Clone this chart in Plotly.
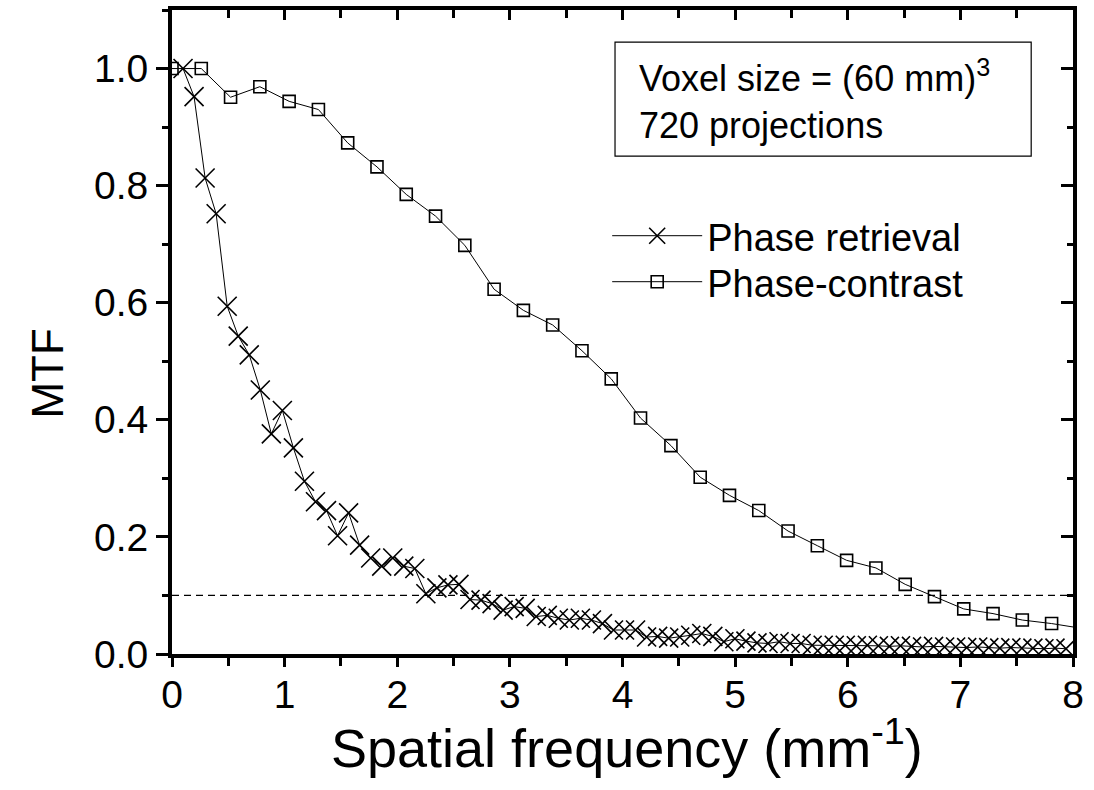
import plotly.graph_objects as go

# Phase-contrast (squares)
pc_x = [0.00, 0.26, 0.52, 0.78, 1.04, 1.30, 1.56, 1.82, 2.08, 2.34, 2.60, 2.86, 3.12, 3.38,
        3.64, 3.90, 4.16, 4.43, 4.69, 4.95, 5.21, 5.47, 5.73, 5.99, 6.25, 6.51, 6.77, 7.03,
        7.29, 7.55, 7.81, 8.07]
pc_y = [1.000, 1.000, 0.951, 0.969, 0.944, 0.930, 0.873, 0.832, 0.785, 0.748, 0.698, 0.623,
        0.587, 0.562, 0.518, 0.470, 0.403, 0.356, 0.302, 0.271, 0.245, 0.210, 0.185, 0.160,
        0.147, 0.119, 0.098, 0.077, 0.069, 0.058, 0.052, 0.044]

# Phase retrieval (crosses)
pr_y = [1.000, 0.952, 0.813, 0.752, 0.594, 0.543, 0.511, 0.451, 0.376, 0.416,
        0.352, 0.295, 0.260, 0.245, 0.202, 0.241, 0.186, 0.164, 0.150, 0.164,
        0.150, 0.146, 0.103, 0.113, 0.118, 0.119, 0.093, 0.092, 0.086, 0.075,
        0.081, 0.078, 0.064, 0.066, 0.061, 0.058, 0.061, 0.058, 0.052, 0.041,
        0.041, 0.041, 0.029, 0.030, 0.027, 0.029, 0.032, 0.035, 0.030, 0.021,
        0.026, 0.022, 0.019, 0.018, 0.021, 0.018, 0.018, 0.015, 0.015, 0.015,
        0.015, 0.014, 0.015, 0.014, 0.013, 0.014, 0.013, 0.012, 0.013, 0.012,
        0.012, 0.011, 0.012, 0.011, 0.010, 0.011, 0.010, 0.010, 0.009, 0.010,
        0.009]
pr_x = [round(0.098 * (i + 1), 3) for i in range(len(pr_y))]

threshold_x = [0, 8]
threshold_y = [0.1, 0.1]

x_ticks = [0, 1, 2, 3, 4, 5, 6, 7, 8]
y_ticks = [0.0, 0.2, 0.4, 0.6, 0.8, 1.0]
y_tick_text = ["0.0", "0.2", "0.4", "0.6", "0.8", "1.0"]

FONT = "Liberation Sans, Arial, sans-serif"

fig = go.Figure()
fig.add_trace(go.Scatter(x=threshold_x, y=threshold_y, mode="lines",
                         line=dict(color="black", width=1.3, dash="7px,5px"),
                         showlegend=False, hoverinfo="skip"))
fig.add_trace(go.Scatter(x=pr_x, y=pr_y, mode="lines+markers", name="Phase retrieval",
                         legend="legend",
                         line=dict(color="black", width=1),
                         marker=dict(symbol="x-thin", size=19, color="black",
                                     line=dict(color="black", width=1.6))))
fig.add_trace(go.Scatter(x=pc_x, y=pc_y, mode="lines+markers", name="Phase-contrast",
                         legend="legend2",
                         line=dict(color="black", width=1),
                         marker=dict(symbol="square-open", size=12, color="black",
                                     line=dict(color="#222", width=1.6))))

axis_common = dict(showgrid=False, zeroline=False, showline=True, linecolor="black",
                   linewidth=4, ticks="outside", tickcolor="black", tickwidth=3,
                   tickfont=dict(family=FONT, size=39, color="black"))

legend_common = dict(xanchor="left", yanchor="middle", bgcolor="rgba(0,0,0,0)",
                     font=dict(family=FONT, size=38, color="black"), itemwidth=90)

fig.update_layout(
    width=1094, height=790,
    margin=dict(l=172, r=17, t=10, b=136),
    plot_bgcolor="white", paper_bgcolor="white",
    font=dict(family=FONT, color="black"),
    xaxis=dict(range=[0, 8], tickvals=x_ticks, ticklen=9, ticklabelstandoff=-6,
               minor=dict(dtick=0.5, ticks="outside", ticklen=8, tickwidth=3, tickcolor="black"),
               **axis_common),
    yaxis=dict(range=[0, 1.1], tickvals=y_ticks, ticktext=y_tick_text, ticklen=12,
               minor=dict(dtick=0.1, ticks="outside", ticklen=6, tickwidth=3, tickcolor="black"),
               **axis_common),
    xaxis2=dict(range=[0, 8], overlaying="x", side="top", showgrid=False, zeroline=False,
                showline=True, linecolor="black", linewidth=4, ticks="inside", ticklen=10,
                tickwidth=3, tickcolor="black", tickvals=x_ticks, showticklabels=False,
                minor=dict(dtick=0.5, ticks="inside", ticklen=8, tickwidth=3, tickcolor="black")),
    yaxis2=dict(range=[0, 1.1], overlaying="y", side="right", showgrid=False, zeroline=False,
                showline=True, linecolor="black", linewidth=4, ticks="inside", ticklen=12,
                tickwidth=3, tickcolor="black", tickvals=y_ticks, showticklabels=False,
                minor=dict(dtick=0.1, ticks="inside", ticklen=6, tickwidth=3, tickcolor="black")),
    legend=dict(x=0.483, y=(654 - 236) / 644, **legend_common),
    legend2=dict(x=0.483, y=(654 - 282) / 644, **legend_common),
    shapes=[dict(type="rect", xref="paper", yref="paper", x0=0.4917, x1=0.9536,
                 y0=0.773, y1=0.950, line=dict(color="black", width=1.2),
                 fillcolor="rgba(0,0,0,0)")],
    annotations=[
        dict(text="Voxel size = (60 mm)<sup>3</sup>", xref="paper", yref="paper",
             x=0.516, y=0.898, xanchor="left", yanchor="middle", showarrow=False,
             font=dict(family=FONT, size=36, color="black")),
        dict(text="720 projections", xref="paper", yref="paper",
             x=0.516, y=0.821, xanchor="left", yanchor="middle", showarrow=False,
             font=dict(family=FONT, size=36, color="black")),
        dict(text="Spatial frequency (mm<sup>-1</sup>)", xref="paper", yref="paper",
             x=(629 - 172) / 905, y=(654 - 744) / 644, xanchor="center", yanchor="middle",
             showarrow=False, font=dict(family=FONT, size=54, color="black")),
        dict(text="MTF", xref="paper", yref="paper", textangle=-90,
             x=(46 - 172) / 905, y=(654 - 374) / 644, xanchor="center", yanchor="middle",
             showarrow=False, font=dict(family=FONT, size=44, color="black")),
    ],
)
# dummy trace for overlay axes
fig.add_trace(go.Scatter(x=[], y=[], xaxis="x2", yaxis="y2", showlegend=False))

fig.write_html("out.html")
